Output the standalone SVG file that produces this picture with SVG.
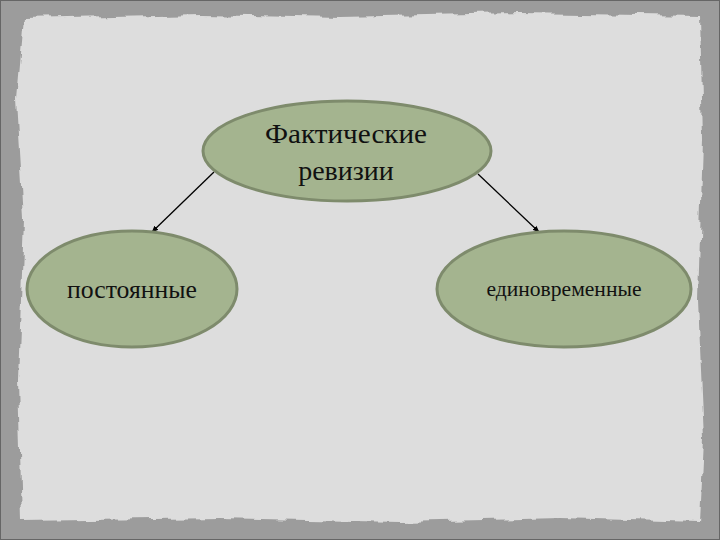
<svg xmlns="http://www.w3.org/2000/svg" width="720" height="540" viewBox="0 0 720 540">
<defs>
<marker id="arr" viewBox="0 0 10 10" refX="9" refY="5" markerWidth="7" markerHeight="7" orient="auto" markerUnits="userSpaceOnUse">
<path d="M0,1 L10,5 L0,9 z" fill="#000"/>
</marker>
<filter id="rough" x="-5%" y="-5%" width="110%" height="110%">
<feTurbulence type="fractalNoise" baseFrequency="0.04" numOctaves="3" seed="4"/>
<feDisplacementMap in="SourceGraphic" scale="10"/>
</filter>
</defs>
<style>
.node ellipse{fill:#a4b48f;stroke:#7e8b6c;stroke-width:3}
.node text{font-family:"Liberation Serif","DejaVu Serif",serif;fill:#111;text-anchor:middle}
.conn line{stroke:#000;stroke-width:1.3;marker-end:url(#arr)}
</style>
<rect x="0" y="0" width="720" height="540" fill="#9c9c9c"/>
<rect x="0.5" y="0.5" width="719" height="539" fill="none" stroke="#666" stroke-width="1"/>
<path d="M24,18 L200,14 L340,17 L520,13 L700,16 L703,140 L698,300 L704,440 L700,522 L560,518 L400,522 L220,518 L22,521 L18,380 L24,220 L17,100 Z" fill="#dddddd" filter="url(#rough)"/>
<g class="conn">
<line x1="214" y1="172" x2="152" y2="232"/>
<line x1="478" y1="174" x2="539" y2="232"/>
</g>
<g id="node-top" class="node">
<ellipse cx="347" cy="151" rx="144" ry="50"/>
<text x="346" y="143" font-size="28" textLength="162" lengthAdjust="spacingAndGlyphs">Фактические</text>
<text x="346" y="180" font-size="28">ревизии</text>
</g>
<g id="node-left" class="node">
<ellipse cx="132" cy="289" rx="105" ry="58"/>
<text x="132" y="298" font-size="25" textLength="130" lengthAdjust="spacingAndGlyphs">постоянные</text>
</g>
<g id="node-right" class="node">
<ellipse cx="564" cy="289" rx="127" ry="58"/>
<text x="564" y="296" font-size="21" textLength="155" lengthAdjust="spacingAndGlyphs">единовременные</text>
</g>
</svg>
